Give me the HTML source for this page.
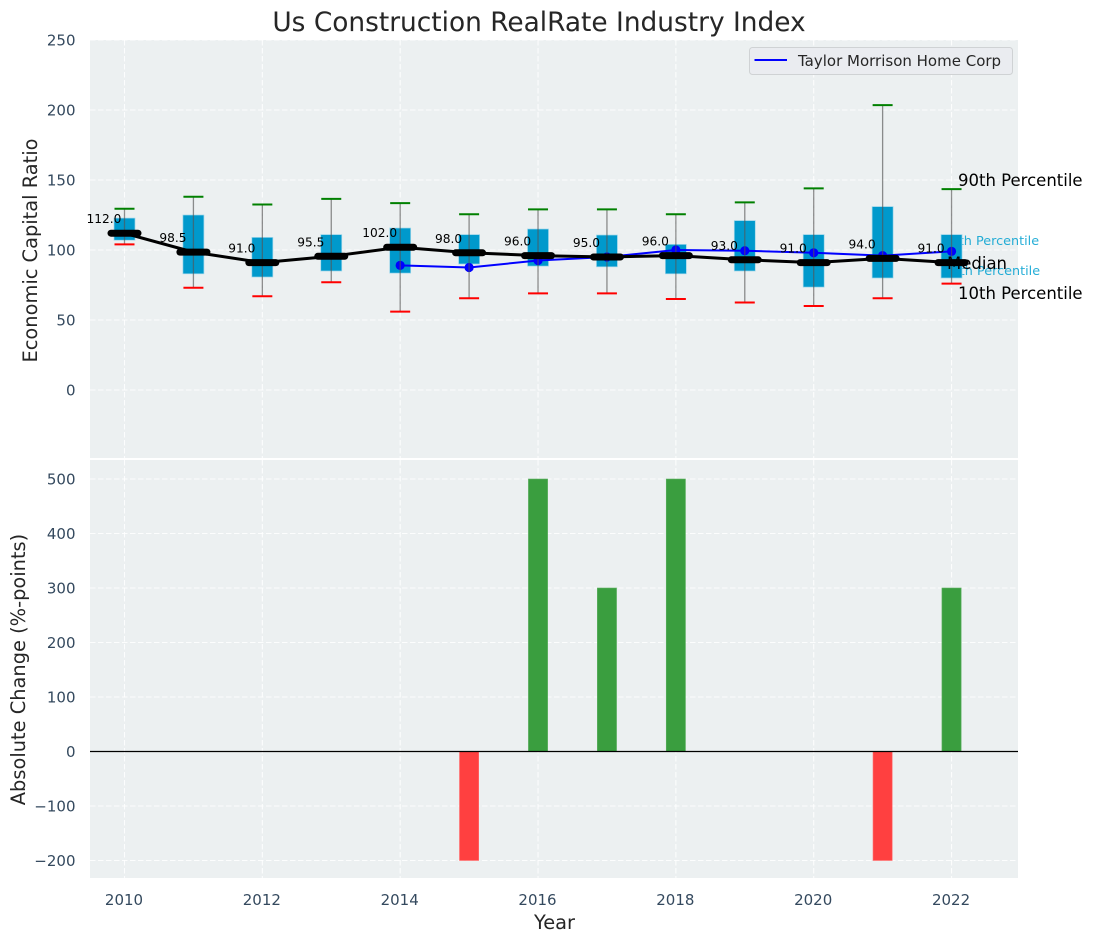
<!DOCTYPE html>
<html lang="en">
<head>
<meta charset="utf-8">
<title>Us Construction RealRate Industry Index</title>
<style>
html,body{margin:0;padding:0;background:#fff;}
svg{display:block;font-family:"DejaVu Sans","Liberation Sans",sans-serif;}
</style>
</head>
<body>
<svg id="chart" width="1093" height="942" viewBox="0 0 1093 942" xmlns="http://www.w3.org/2000/svg">
  <rect x="90" y="40" width="928" height="418" fill="#ecf0f1"/>
  <rect x="90" y="460" width="928" height="418" fill="#ecf0f1"/>
  <g id="grid"></g>
  <g id="behind">
    <text x="942.5" y="245" font-size="12.8" fill="#00a0d0" fill-opacity="0.85">75th Percentile</text>
    <text x="943.5" y="275" font-size="12.8" fill="#00a0d0" fill-opacity="0.85">25th Percentile</text>
  </g>
  <g id="marks"></g>
  <g id="ticks" font-size="15" fill="#34495e"></g>
  <text x="539" y="31" font-size="26.4" fill="#262626" text-anchor="middle">Us Construction RealRate Industry Index</text>
  <text transform="translate(37,250.5) rotate(-90)" font-size="19.4" fill="#262626" text-anchor="middle">Economic Capital Ratio</text>
  <text transform="translate(25,669.5) rotate(-90)" font-size="19.4" fill="#262626" text-anchor="middle">Absolute Change (%-points)</text>
  <text x="554.5" y="929" font-size="19.4" fill="#262626" text-anchor="middle">Year</text>
  <text x="958" y="186" font-size="16.5" fill="#000">90th Percentile</text>
  <text x="947" y="269" font-size="16.5" fill="#000">Median</text>
  <text x="958" y="299" font-size="16.5" fill="#000">10th Percentile</text>
  <g>
    <rect x="749.5" y="47.5" width="263" height="27" rx="3" fill="#eaecf0" stroke="#cfd2d4" stroke-width="1"/>
    <line x1="754.5" y1="60" x2="787" y2="60" stroke="#0000ff" stroke-width="2"/>
    <text x="798" y="66" font-size="15" fill="#262626">Taylor Morrison Home Corp</text>
  </g>
</svg>
<script>
const years = [2010,2011,2012,2013,2014,2015,2016,2017,2018,2019,2020,2021,2022];
const medians = [112,98.5,91,95.5,102,98,96,95,96,93,91,94,91];
const p75 = [122.8,125,109,111,115.7,111,115,110.7,104,121,111,131,111];
const p25 = [107,83,80.7,85,83.5,90,88.5,88,83,85,73.5,80,80];
const p90 = [129.5,138,132.5,136.5,133.5,125.5,129,129,125.5,134,144,203.5,143.5];
const p10 = [104,73,67,77,56,65.5,69,69,65,62.5,60,65.5,76];
const companyYears = [2014,2015,2016,2017,2018,2019,2020,2021,2022];
const companyValues = [89,87.5,92.5,95,100,99.5,98,96,99];
const changes = [0,0,0,0,0,-200,500,300,500,0,0,-200,300];
const topTicks = [0,50,100,150,200,250];
const bottomTicks = [-200,-100,0,100,200,300,400,500];
const xTicks = [2010,2012,2014,2016,2018,2020,2022];

const NS = 'http://www.w3.org/2000/svg';
function xPos(v){ return 124.5 + (v - 2010) * 68.92; }
function yTop(v){ return 390 - v * 1.4; }
function yBottom(v){ return 751.5 - v * 0.545; }
function mk(parent, tag, attrs){
  const el = document.createElementNS(NS, tag);
  for (const k in attrs) el.setAttribute(k, attrs[k]);
  parent.appendChild(el);
  return el;
}
const grid = document.getElementById('grid');
const marks = document.getElementById('marks');
const ticks = document.getElementById('ticks');
const gridStyle = {stroke:'#ffffff','stroke-width':1.1,'stroke-dasharray':'5.5 2.5','stroke-opacity':0.85};

xTicks.forEach(function(t){
  [[40,458],[460,878]].forEach(function(r){
    const g = mk(grid,'line',Object.assign({x1:xPos(t),x2:xPos(t),y1:r[0],y2:r[1]},gridStyle));
    
    
  });
  const lab = mk(ticks,'text',{x:xPos(t)-0.5,y:905,'text-anchor':'middle'});
  
  
  lab.textContent = t;
});
topTicks.forEach(function(t){
  const g = mk(grid,'line',Object.assign({x1:90,x2:1018,y1:yTop(t),y2:yTop(t)},gridStyle));
  
  
  const lab = mk(ticks,'text',{x:75.5,y:yTop(t)+5.5,'text-anchor':'end'});
  
  
  lab.textContent = t;
});
bottomTicks.forEach(function(t){
  const g = mk(grid,'line',Object.assign({x1:90,x2:1018,y1:yBottom(t),y2:yBottom(t)},gridStyle));
  
  
  const lab = mk(ticks,'text',{x:75.5,y:yBottom(t)+5.5,'text-anchor':'end'});
  
  
  lab.textContent = String(t).replace('-','\u2212');
});

// change bars
changes.forEach(function(v,i){
  if (v === 0) return;
  const y0 = yBottom(0), y1 = yBottom(v);
  const b = mk(marks,'rect',{x:xPos(years[i])-9.6,y:Math.min(y0,y1),width:19.2,height:Math.abs(y1-y0),
    fill:v>0?'#3a9e3f':'#ff4040',stroke:v>0?'#5fb063':'#ff7070','stroke-width':0.6});
  
  
});
const zero = mk(marks,'line',{x1:90,x2:1018,y1:yBottom(0),y2:yBottom(0),stroke:'#000','stroke-width':1.2});



// boxes
years.forEach(function(yr,i){
  const b = mk(marks,'rect',{x:xPos(yr)-10.5,y:yTop(p75[i]),width:21,height:yTop(p25[i])-yTop(p75[i]),
    fill:'#0099cc',stroke:'#9ed6ea','stroke-width':0.7});
  
  
});

// company line
const compPts = companyYears.map(function(yr,i){ return xPos(yr)+','+yTop(companyValues[i]); }).join(' ');
const compLine = mk(marks,'polyline',{points:compPts,fill:'none',stroke:'#0000ff','stroke-width':2});


companyYears.forEach(function(yr,i){
  const d = mk(marks,'circle',{cx:xPos(yr),cy:yTop(companyValues[i]),r:4.6,fill:'#0000ff'});
  
  
});

// whiskers and caps
years.forEach(function(yr,i){
  const x = xPos(yr);
  const w = mk(marks,'line',{x1:x,x2:x,y1:yTop(p90[i]),y2:yTop(p10[i]),stroke:'#555','stroke-opacity':0.65,'stroke-width':1.3});
  
  
  const c1 = mk(marks,'line',{x1:x-10,x2:x+10,y1:yTop(p90[i]),y2:yTop(p90[i]),stroke:'#008000','stroke-width':2});
  
  
  const c2 = mk(marks,'line',{x1:x-10,x2:x+10,y1:yTop(p10[i]),y2:yTop(p10[i]),stroke:'#ff0000','stroke-width':2});
  
  
});

// median line
const medPts = years.map(function(yr,i){ return xPos(yr)+','+yTop(medians[i]); }).join(' ');
const medLine = mk(marks,'polyline',{points:medPts,fill:'none',stroke:'#000','stroke-width':3});


years.forEach(function(yr,i){
  const x = xPos(yr), y = yTop(medians[i]);
  const m = mk(marks,'line',{x1:x-13.5,x2:x+13.5,y1:y,y2:y,stroke:'#000','stroke-width':7,'stroke-linecap':'round'});
  
  
  const t = mk(marks,'text',{x:x-20.5,y:y-10,'font-size':12.2,fill:'#000','text-anchor':'middle'});
  
  
  t.textContent = medians[i].toFixed(1);
});
</script>
</body>
</html>
